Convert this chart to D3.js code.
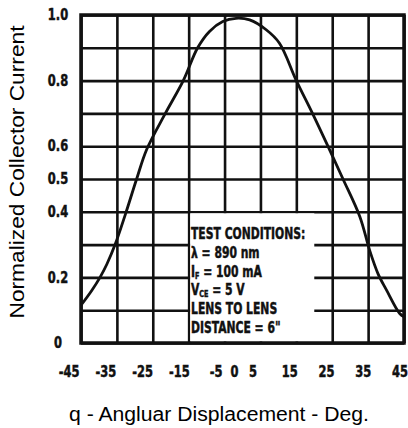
<!DOCTYPE html>
<html>
<head>
<meta charset="utf-8">
<script src="https://cdn.jsdelivr.net/npm/d3@7"></script>
<style>
  body { margin: 0; background: #fff; }
  .tick-label { font-family: "DejaVu Sans", sans-serif; font-stretch: condensed; font-weight: bold; font-size: 15px; fill: #111; stroke: #111; stroke-width: 0.45; }
  .title { font-family: "Liberation Sans", Arial, sans-serif; fill: #000; }
</style>
</head>
<body>
<div id="chart"></div>
<script>
// curve: angle (deg) and normalized current
var angles = [-45, -42, -39.7, -37.8, -35.5, -32.7, -29.5, -26.7, -21.5, -16.5, -12.5, -9.2, -5.5, -1.8, 2, 6.6, 10.3, 15, 19.5, 23.8, 28, 32.7, 35.5, 37.8, 40.1, 43.8, 45];
var current = [0.115, 0.16, 0.2, 0.24, 0.3, 0.39, 0.5, 0.59, 0.7, 0.8, 0.9, 0.95, 0.98, 0.99, 0.985, 0.955, 0.914, 0.8, 0.7, 0.6, 0.5, 0.385, 0.28, 0.21, 0.162, 0.09, 0.08];

// grid and tick labels
var gridX = [-45, -35, -25, -15, -5, 5, 15, 25, 35, 45];
var gridY = [0, 0.1, 0.2, 0.3, 0.4, 0.5, 0.6, 0.7, 0.8, 0.9, 1.0];
var xLabels = [-45, -35, -25, -15, -5, 0, 5, 15, 25, 35, 45];
var yLabels = [0, 0.2, 0.4, 0.5, 0.6, 0.8, 1.0];

// test conditions note
var noteLines = [
  [["TEST CONDITIONS:", ""]],
  [["λ = 890 nm", ""]],
  [["I", ""], ["F", "sub"], [" = 100 mA", ""]],
  [["V", ""], ["CE", "sub"], [" = 5 V", ""]],
  [["LENS TO LENS", ""]],
  [["DISTANCE = 6\"", ""]]
];
var noteBox = {x: [-15, 20], y: [0, 0.4]};

var width = 408, height = 428;
var plot = {left: 81, right: 404, top: 15, bottom: 343};

var svg = d3.select("#chart")
    .append("svg")
    .attr("width", width)
    .attr("height", height);

var x = d3.scaleLinear().domain([-45, 45]).range([plot.left, plot.right]);
var y = d3.scaleLinear().domain([0, 1]).range([plot.bottom, plot.top]);
// labels in the scan sit a bit left of their grid lines
var xLab = d3.scaleLinear().domain([-45, 45]).range([69, 400]);

// vertical grid
svg.append("g")
    .attr("transform", "translate(0," + plot.bottom + ")")
    .call(d3.axisBottom(x).tickValues(gridX).tickSize(-(plot.bottom - plot.top)).tickFormat(""))
    .call(function(g) {
      g.select(".domain").remove();
      g.selectAll("line").attr("stroke", "#111").attr("stroke-width", 2.6);
    });

// horizontal grid
svg.append("g")
    .attr("transform", "translate(" + plot.left + ",0)")
    .call(d3.axisLeft(y).tickValues(gridY).tickSize(-(plot.right - plot.left)).tickFormat(""))
    .call(function(g) {
      g.select(".domain").remove();
      g.selectAll("line").attr("stroke", "#111").attr("stroke-width", 2.6);
    });

// white box holding the test conditions
svg.append("rect")
    .attr("x", x(noteBox.x[0]) + 1.5)
    .attr("y", y(noteBox.y[1]) + 1.5)
    .attr("width", x(noteBox.x[1]) - x(noteBox.x[0]) - 1.5)
    .attr("height", y(noteBox.y[0]) - y(noteBox.y[1]) - 3)
    .attr("fill", "#fff");

// frame
svg.append("rect")
    .attr("x", plot.left)
    .attr("y", plot.top)
    .attr("width", plot.right - plot.left)
    .attr("height", plot.bottom - plot.top)
    .attr("fill", "none")
    .attr("stroke", "#111")
    .attr("stroke-width", 3.5);

// curve
var line = d3.line()
    .x(function(d, i) { return x(angles[i]); })
    .y(function(d) { return y(d); })
    .curve(d3.curveCatmullRom.alpha(0.5));

svg.append("path")
    .datum(current)
    .attr("d", line)
    .attr("fill", "none")
    .attr("stroke", "#111")
    .attr("stroke-width", 2.8);

// x tick labels (squeezed like the scan's condensed type)
svg.append("g").selectAll("text")
    .data(xLabels)
    .enter().append("text")
    .attr("class", "tick-label")
    .attr("transform", function(d) { return "translate(" + xLab(d) + ",377) scale(0.85,1)"; })
    .attr("text-anchor", "middle")
    .text(function(d) { return d; });

// y tick labels
svg.append("g").selectAll("text")
    .data(yLabels)
    .enter().append("text")
    .attr("class", "tick-label")
    .attr("transform", function(d) { return "translate(58," + y(d) + ") scale(0.85,1)"; })
    .attr("dy", "0.35em")
    .attr("text-anchor", "middle")
    .text(function(d) { return d === 0 ? "0" : d.toFixed(1); });

// note text
var baselines = [239, 258, 277, 295, 314, 333];
noteLines.forEach(function(parts, i) {
  var t = svg.append("text")
      .attr("class", "tick-label")
      .attr("transform", "translate(191," + baselines[i] + ") scale(0.8,1)");
  parts.forEach(function(p, j) {
    var s = t.append("tspan").text(p[0]);
    if (p[1] === "sub") s.attr("font-size", "9px").attr("dy", 2);
    else if (j > 0) s.attr("dy", -2);
  });
});

// axis titles
svg.append("text")
    .attr("class", "title")
    .attr("x", 219)
    .attr("y", 421)
    .attr("font-size", 20)
    .attr("text-anchor", "middle")
    .attr("textLength", 300)
    .attr("lengthAdjust", "spacingAndGlyphs")
    .text("q - Angluar Displacement - Deg.");

svg.append("text")
    .attr("class", "title")
    .attr("transform", "translate(24,172) rotate(-90)")
    .attr("font-size", 21)
    .attr("text-anchor", "middle")
    .attr("textLength", 293)
    .attr("lengthAdjust", "spacingAndGlyphs")
    .text("Normalized Collector Current");
</script>
</body>
</html>
